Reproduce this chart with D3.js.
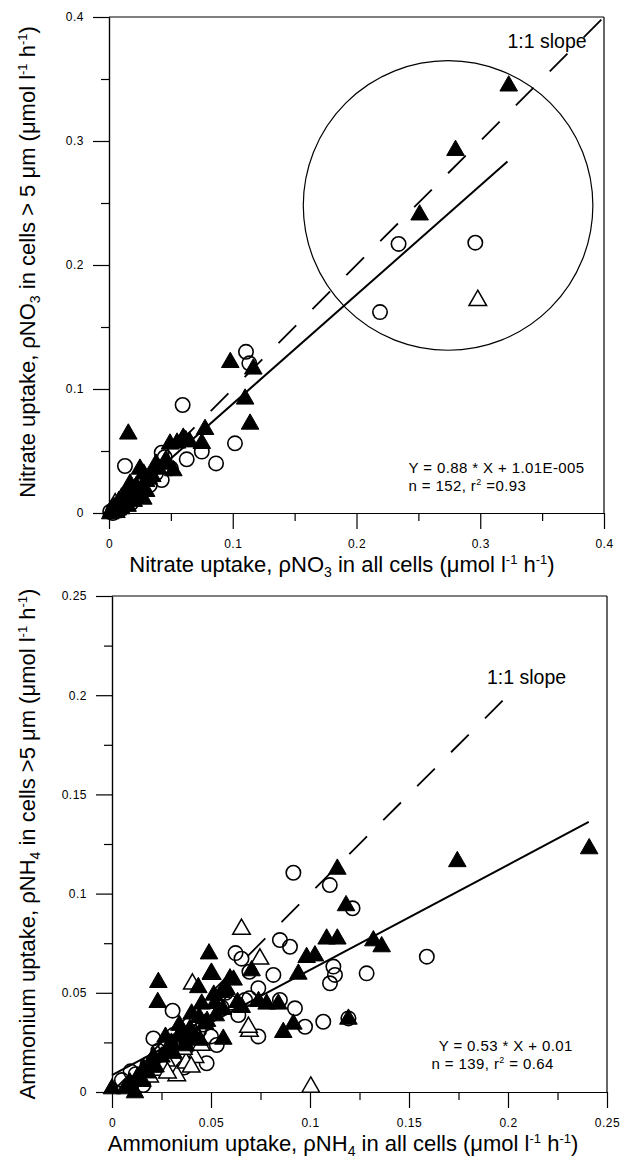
<!DOCTYPE html>
<html><head><meta charset="utf-8">
<script src="https://cdn.jsdelivr.net/npm/d3@7"></script>
<style>
html,body{margin:0;padding:0;background:#fff;}
svg{display:block;font-family:"Liberation Sans",Arial,Helvetica,sans-serif;}
</style></head>
<body>
<script>
// ---------- DATA ----------
// Top panel: nitrate uptake (x = all cells, y = cells > 5 µm)
const no3FilledTriangles = [
 [0.323,0.345],[0.280,0.293],[0.251,0.241],[0.098,0.122],[0.1166,0.1167],[0.110,0.0925],[0.114,0.0723],
 [0.0156,0.0643],[0.0776,0.068],[0.075,0.0567],[0.060,0.061],[0.065,0.058],[0.0493,0.0562],[0.045,0.040],
 [0.052,0.0347],[0.025,0.036],[0.0277,0.0118],[0.055,0.057],[0.062,0.059],[0.040,0.036],[0.035,0.030],
 [0.030,0.026],[0.022,0.022],[0.018,0.018],[0.012,0.014],[0.008,0.010],[0.004,0.005],[0.002,0.002],
 [0.010,0.004],[0.015,0.006],[0.020,0.010],[0.024,0.016],[0.006,0.001],[0.013,0.009],[0.017,0.024],
 [0.028,0.032],[0.032,0.028],[0.046,0.043],[0.038,0.040],[0.001,0.000],[0.007,0.003],[0.019,0.013],
 [0.026,0.020],[0.030,0.018]
];
const no3OpenCircles = [
 [0.234,0.217],[0.296,0.218],[0.219,0.162],[0.1107,0.130],[0.1134,0.1207],[0.0595,0.0871],[0.1018,0.0562],
 [0.0865,0.040],[0.075,0.0495],[0.0628,0.0433],[0.0426,0.0486],[0.045,0.045],[0.0426,0.0266],[0.0129,0.0379],
 [0.033,0.0226],[0.050,0.036],[0.038,0.032],[0.026,0.024],[0.020,0.017],[0.015,0.012],[0.009,0.008],
 [0.004,0.003],[0.001,0.001],[0.012,0.005],[0.006,0.006],[0.018,0.008],[0.023,0.013],[0.003,0.000],[0.008,0.002]
];
const no3OpenTriangles = [
 [0.298,0.172],[0.010,0.012],[0.005,0.008],[0.016,0.015],[0.021,0.019],[0.003,0.004]
];
const no3Fit = {slope:0.88, intercept:0.0000101, xMin:0, xMax:0.322};
const no3Ticks = [0,0.1,0.2,0.3,0.4];
const no3MinorTicks = [0.05,0.15,0.25,0.35];
const no3Circle = {cx:0.274, cy:0.248, r:0.117};

// Bottom panel: ammonium uptake
const nh4FilledTriangles = [
 [0.241,0.123],[0.1744,0.1165],[0.1138,0.1127],[0.1182,0.0943],[0.1084,0.0775],[0.1138,0.0775],[0.132,0.0766],
 [0.1362,0.0736],[0.0983,0.0682],[0.1025,0.069],[0.0941,0.0598],[0.1194,0.0371],[0.0916,0.0346],[0.0865,0.0304],
 [0.0781,0.0447],[0.084,0.0447],[0.0705,0.0615],[0.0614,0.0568],[0.049,0.070],[0.050,0.060],[0.0596,0.0574],
 [0.0514,0.0492],[0.0436,0.053],[0.0234,0.0556],[0.0231,0.0455],[0.0554,0.0506],[0.0453,0.0447],[0.0402,0.0397],
 [0.047,0.0347],[0.0524,0.0388],[0.0394,0.032],[0.0562,0.027],[0.0444,0.0265],[0.0655,0.043],[0.074,0.046],
 [0.0634,0.0455],[0,0.002],[0.0066,0.002],[0.0116,0.000],[0.0154,0.0057],[0.0194,0.015],[0.0334,0.028],
 [0.0374,0.0237],[0.028,0.022],[0.025,0.018],[0.031,0.020],[0.022,0.013],[0.018,0.010],[0.013,0.008],
 [0.036,0.030],[0.042,0.028],[0.048,0.036],[0.030,0.025],[0.009,0.005],[0.056,0.042],
 [0.034,0.034],[0.038,0.027],[0.044,0.038],[0.052,0.045],[0.027,0.028],[0.021,0.018],[0.016,0.012],[0.058,0.052]
];
const nh4OpenTriangles = [
 [0.0654,0.0824],[0.0747,0.0674],[0.0406,0.0548],[0.0504,0.0597],[0.0694,0.031],[0.0689,0.033],[0.1004,0.0028],
 [0.0327,0.0086],[0.0419,0.0178],[0.0234,0.0114],[0.0274,0.016],[0.0374,0.015],[0.030,0.020],[0.036,0.022],
 [0.045,0.024],[0.019,0.008],[0.026,0.013],[0.040,0.013],[0.028,0.010]
];
const nh4OpenCircles = [
 [0.0916,0.1105],[0.110,0.1043],[0.1215,0.0926],[0.159,0.0682],[0.1286,0.0598],[0.1118,0.0632],[0.1126,0.059],
 [0.1101,0.0548],[0.0848,0.0766],[0.0899,0.0732],[0.0624,0.070],[0.0654,0.0672],[0.0694,0.0606],[0.0815,0.059],
 [0.0739,0.0523],[0.0672,0.0464],[0.0638,0.0388],[0.0694,0.0473],[0.0848,0.0464],[0.0924,0.0422],
 [0.0975,0.0329],[0.1067,0.0354],[0.1194,0.0371],[0.0739,0.028],[0.0554,0.0426],[0.0574,0.050],
 [0.0306,0.041],[0.0209,0.027],[0.031,0.0287],[0.0529,0.0237],[0.0478,0.0145],[0.0364,0.0123],[0.0158,0.0035],
 [0.0094,0.0104],[0.005,0.006],[0.0234,0.0208],[0.041,0.030],[0.027,0.024],[0.038,0.018],[0.012,0.009],
 [0.046,0.034],[0.060,0.045],[0.033,0.026],[0.044,0.031],[0.025,0.016],[0.018,0.014],[0.050,0.028]
];
const nh4Fit = {slope:0.53, intercept:0.0085, xMin:0, xMax:0.2408};
const nh4Ticks = [0,0.05,0.1,0.15,0.2,0.25];
const nh4MinorTicks = [0.025,0.075,0.125,0.175,0.225];
const oneToOneMax = {no3:0.4, nh4:0.2};

// ---------- DRAW ----------
const W = 621, H = 1158;
const svg = d3.select("body").append("svg").attr("width", W).attr("height", H);

const triPath = "M0,-9.5L8.8,5.8L-8.8,5.8Z";

function panel(cfg){
  const x = d3.scaleLinear().domain(cfg.domain).range([cfg.left, cfg.right]);
  const y = d3.scaleLinear().domain(cfg.domain).range([cfg.bottom, cfg.top]);
  const g = svg.append("g");

  // frame top & right
  g.append("line").attr("x1",cfg.left).attr("x2",cfg.right).attr("y1",cfg.top).attr("y2",cfg.top)
    .attr("stroke","#000").attr("stroke-width",1.2);
  g.append("line").attr("x1",cfg.right).attr("x2",cfg.right).attr("y1",cfg.top).attr("y2",cfg.bottom)
    .attr("stroke","#000").attr("stroke-width",1.2);

  const fmt = d => d===0 ? "0" : String(d);
  // axes
  g.append("g").attr("transform",`translate(0,${cfg.bottom})`)
    .call(d3.axisBottom(x).tickValues(cfg.ticks).tickFormat(fmt).tickSize(16).tickSizeOuter(0).tickPadding(10));
  g.append("g").attr("transform",`translate(0,${cfg.bottom})`)
    .call(d3.axisBottom(x).tickValues(cfg.minor).tickFormat("").tickSize(8).tickSizeOuter(0));
  g.append("g").attr("transform",`translate(${cfg.left},0)`)
    .call(d3.axisLeft(y).tickValues(cfg.ticks).tickFormat(fmt).tickSize(16).tickSizeOuter(0).tickPadding(9));
  g.append("g").attr("transform",`translate(${cfg.left},0)`)
    .call(d3.axisLeft(y).tickValues(cfg.minor).tickFormat("").tickSize(8).tickSizeOuter(0));
  g.selectAll(".domain, .tick line").attr("stroke","#000").attr("stroke-width",1.2);
  g.selectAll(".tick text").attr("font-size",12).attr("fill","#000").attr("letter-spacing",0.5)
    .attr("font-family","\"Liberation Sans\",Arial,sans-serif");

  // 1:1 dashed line
  g.append("line")
    .attr("x1",x(0)).attr("y1",y(0)).attr("x2",x(cfg.oneMax)).attr("y2",y(cfg.oneMax))
    .attr("stroke","#000").attr("stroke-width",1.8).attr("stroke-dasharray","25,23");

  // fit line
  g.append("line")
    .attr("x1",x(cfg.fit.xMin)).attr("y1",y(cfg.fit.slope*cfg.fit.xMin+cfg.fit.intercept))
    .attr("x2",x(cfg.fit.xMax)).attr("y2",y(cfg.fit.slope*cfg.fit.xMax+cfg.fit.intercept))
    .attr("stroke","#000").attr("stroke-width",2);

  if (cfg.circle){
    g.append("circle").attr("cx",x(cfg.circle.cx)).attr("cy",y(cfg.circle.cy))
      .attr("r", x(cfg.circle.r)-x(0)).attr("fill","none").attr("stroke","#000").attr("stroke-width",1.2);
  }

  // markers
  g.selectAll(".oc").data(cfg.circles).join("circle")
    .attr("cx",d=>x(d[0])).attr("cy",d=>y(d[1])).attr("r",7.2)
    .attr("fill","none").attr("stroke","#000").attr("stroke-width",1.6);
  g.selectAll(".ot").data(cfg.openTri).join("path")
    .attr("d",triPath).attr("transform",d=>`translate(${x(d[0])},${y(d[1])})`)
    .attr("fill","#fff").attr("stroke","#000").attr("stroke-width",1.5);
  g.selectAll(".ft").data(cfg.filledTri).join("path")
    .attr("d",triPath).attr("transform",d=>`translate(${x(d[0])},${y(d[1])})`)
    .attr("fill","#000").attr("stroke","#000").attr("stroke-width",1);

  // labels
  g.append("text").attr("x",x(cfg.slopeLabel[0])).attr("y",y(cfg.slopeLabel[1]))
    .attr("font-size",19.5).text("1:1 slope");
  g.append("text").attr("font-size",15).attr("letter-spacing",0.4)
    .attr("x",x(cfg.eqPos[0])).attr("y",y(cfg.eqPos[1])).text(cfg.eq1);
  const l2 = g.append("text").attr("font-size",15).attr("letter-spacing",0.4)
    .attr("x",x(cfg.eqPos2[0])).attr("y",y(cfg.eqPos2[1]));
  l2.append("tspan").text(cfg.eq2a);
  l2.append("tspan").attr("font-size",9).attr("dy",-6).text("2");
  l2.append("tspan").attr("dy",6).text(cfg.eq2b);

  // axis titles
  function title(t, parts){
    parts.forEach(p=>{
      const s = t.append("tspan").text(p[0]);
      if (p[1]==="sub") s.attr("font-size",14).attr("dy",5);
      else if (p[1]==="sup") s.attr("font-size",13).attr("dy",-8);
      else if (p[1]==="back") s.attr("dy",p[2]);
    });
  }
  const xt = g.append("text").attr("x",cfg.xTitleX).attr("y",cfg.bottom+59)
    .attr("text-anchor","middle").attr("font-size",22);
  title(xt, cfg.xTitle);
  const yt = g.append("text").attr("transform",`translate(${cfg.yTitleX},${cfg.yTitleY}) rotate(-90)`)
    .attr("text-anchor","middle").attr("font-size",22);
  title(yt, cfg.yTitle);
}

function unitParts(){
  return [["(μmol l"],["-1","sup"],[" h","back",8],["-1","sup"],[")","back",8]];
}

panel({
  domain:[0,0.4], left:109, right:604, top:17, bottom:513,
  ticks:no3Ticks, minor:no3MinorTicks, oneMax:oneToOneMax.no3, fit:no3Fit, circle:no3Circle,
  circles:no3OpenCircles, openTri:no3OpenTriangles, filledTri:no3FilledTriangles,
  slopeLabel:[0.322,0.375], eqPos:[0.242,0.0323], eqPos2:[0.242,0.0178],
  eq1:"Y = 0.88 * X + 1.01E-005", eq2a:"n = 152, r", eq2b:" =0.93",
  xTitleX:342, yTitleX:35, yTitleY:262,
  xTitle:[["Nitrate uptake, ρNO"],["3","sub"],[" in all cells ","back",-5]].concat(unitParts()),
  yTitle:[["Nitrate uptake, ρNO"],["3","sub"],[" in cells > 5 μm ","back",-5]].concat(unitParts())
});

panel({
  domain:[0,0.25], left:112, right:607, top:596, bottom:1092,
  ticks:nh4Ticks, minor:nh4MinorTicks, oneMax:oneToOneMax.nh4, fit:nh4Fit, circle:null,
  circles:nh4OpenCircles, openTri:nh4OpenTriangles, filledTri:nh4FilledTriangles,
  slopeLabel:[0.1894,0.2055], eqPos:[0.165,0.0208], eqPos2:[0.1614,0.0117],
  eq1:"Y = 0.53 * X + 0.01", eq2a:"n = 139,  r", eq2b:" = 0.64",
  xTitleX:343, yTitleX:35, yTitleY:844,
  xTitle:[["Ammonium uptake, ρNH"],["4","sub"],[" in all cells ","back",-5]].concat(unitParts()),
  yTitle:[["Ammonium uptake, ρNH"],["4","sub"],[" in cells >5 μm ","back",-5]].concat(unitParts())
});
</script>
</body></html>
